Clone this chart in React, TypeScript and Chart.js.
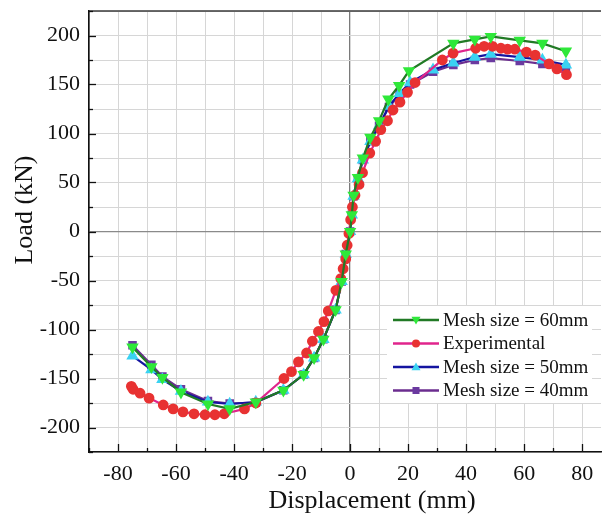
import React, { useEffect, useRef } from "react";
import { Chart, registerables } from "chart.js";

Chart.register(...registerables);

// ---- Data ----
const mesh60X = [-75, -68.5, -64.7, -58.3, -49, -41.5, -32.5, -23, -16, -12.4, -9.2, -5, -2.9, -1.5, 0, 0.6, 1.2, 2.7, 4.4, 7, 10, 13.2, 16.9, 20.3, 35.6, 43, 48.5, 58.5, 66.3, 74.4];
const mesh60Y = [-118, -138, -149, -164, -176, -181, -174, -162, -146, -129, -110, -80, -51, -23, 0, 17, 37, 55, 75, 96, 113, 135, 149, 164, 192, 196, 199, 195, 192, 184];

const expX = [-75.4, -74.8, -72.4, -69.3, -64.4, -61, -57.6, -53.8, -50, -46.6, -43.4, -36.4, -32.5, -22.8, -20.2, -17.8, -15, -13, -10.9, -9, -7.5, -4.9, -3.2, -2.4, -1.5, -1.0, -0.4, 0.2, 0.8, 1.7, 3.1, 4.3, 6.8, 8.8, 10.6, 12.9, 14.8, 17.2, 19.8, 22.4, 31.8, 35.5, 43.3, 46.2, 49.1, 52, 54.3, 56.8, 60.8, 63.8, 68.6, 71.3, 74.6];
const expY = [-158, -161, -165, -170, -177, -181, -184, -186, -187, -187, -186, -181, -175, -150, -143, -133, -124, -112, -102, -92, -81, -60, -48, -38, -28, -14, -2, 12, 25, 37, 48, 60, 80, 92, 104, 113, 124, 132, 142, 152, 175, 182, 187, 189, 189, 187, 186, 186, 183, 180, 171, 166, 160];

const mesh50X = [-75, -68.5, -64.7, -58.3, -49, -41.5, -32.5, -23, -16, -12.4, -9.2, -5, -2.9, -1.5, 0, 0.6, 1.2, 2.7, 4.4, 7, 10, 13.4, 17.1, 20.7, 28.6, 35.6, 43, 48.5, 58.5, 66.3, 74.4];
const mesh50Y = [-127, -141, -151, -163, -174, -176, -174, -162, -146, -129, -110, -80, -51, -23, 0, 17, 36, 54, 73, 92, 108, 128, 141, 152, 165, 172, 178, 181, 178, 175, 170];

const mesh40X = [-75, -68.5, -64.7, -58.3, -49, -41.5, -32.5, -23, -16, -12.4, -9.2, -5, -2.9, -1.5, 0, 0.6, 1.2, 2.7, 4.4, 7, 10, 13.4, 17.1, 20.7, 28.6, 35.6, 43, 48.5, 58.5, 66.3, 74.4];
const mesh40Y = [-116, -136, -148, -161, -173, -175.5, -174.5, -162, -146, -129, -110, -80, -51, -23, 0, 17, 36, 54, 73, 92, 108, 127, 140, 150, 163, 170, 175, 177, 174, 171, 167];

const seriesLabels = ["Mesh size = 60mm", "Experimental", "Mesh size = 50mm", "Mesh size = 40mm"];
const xTitle = "Displacement (mm)";
const yTitle = "Load (kN)";
const xMin = -90;
const xMax = 86.5;
const yMin = -225;
const yMax = 225;

const FONT = "'Liberation Serif', 'Times New Roman', serif";

const toPoints = (xs: number[], ys: number[]) => xs.map((x, i) => ({ x, y: ys[i] }));

const overlayPlugin = {
  id: "overlay",
  afterDraw(chart: any) {
    const { ctx, chartArea, scales } = chart;
    const xs = scales.x;
    const ys = scales.y;
    ctx.save();
    // top border
    ctx.strokeStyle = "#3a3a3a";
    ctx.lineWidth = 1.5;
    ctx.beginPath();
    ctx.moveTo(chartArea.left, chartArea.top);
    ctx.lineTo(chartArea.right, chartArea.top);
    ctx.stroke();
    // inward ticks
    ctx.strokeStyle = "#111";
    ctx.lineWidth = 1.3;
    for (let v = yMin; v <= yMax; v += 25) {
      const py = Math.round(ys.getPixelForValue(v)) + 0.5;
      const len = v % 50 === 0 ? 7 : 4;
      ctx.beginPath();
      ctx.moveTo(chartArea.left, py);
      ctx.lineTo(chartArea.left + len, py);
      ctx.stroke();
    }
    for (let v = -90; v <= 80; v += 10) {
      const px = Math.round(xs.getPixelForValue(v)) + 0.5;
      const len = v % 20 === 0 ? 8 : 4;
      ctx.beginPath();
      ctx.moveTo(px, chartArea.bottom);
      ctx.lineTo(px, chartArea.bottom - len);
      ctx.stroke();
    }
    // axis titles
    ctx.fillStyle = "#111";
    ctx.font = `26px ${FONT}`;
    ctx.textAlign = "center";
    ctx.textBaseline = "middle";
    ctx.fillText(xTitle, 372, 501);
    ctx.save();
    ctx.translate(25, 210);
    ctx.rotate(-Math.PI / 2);
    ctx.fillText(yTitle, 0, 0);
    ctx.restore();

    // legend
    const bx = 387, by = 306, bw = 205, bh = 97;
    ctx.fillStyle = "#fff";
    ctx.fillRect(bx, by, bw, bh);
    const rowY = [320, 343.5, 367, 390.5];
    ctx.font = `19px ${FONT}`;
    ctx.textAlign = "left";
    ctx.textBaseline = "middle";
    chart.data.datasets.forEach((ds: any, row: number) => {
      const y = rowY[row];
      ctx.strokeStyle = ds.borderColor;
      ctx.lineWidth = 2.5;
      ctx.beginPath();
      ctx.moveTo(393, y);
      ctx.lineTo(439, y);
      ctx.stroke();
      ctx.fillStyle = ds.pointBackgroundColor;
      const mx = 416;
      const r = 4.5;
      ctx.beginPath();
      if (ds.pointStyle === "circle") {
        ctx.arc(mx, y, 4, 0, Math.PI * 2);
        ctx.fill();
      } else if (ds.pointStyle === "rect") {
        ctx.fillRect(mx - 3.5, y - 3.5, 7, 7);
      } else if (ds.pointStyle === "triangle") {
        const down = ds.pointRotation === 180;
        const s = down ? -1 : 1;
        ctx.moveTo(mx, y - s * r);
        ctx.lineTo(mx - r, y + s * r * 0.7);
        ctx.lineTo(mx + r, y + s * r * 0.7);
        ctx.closePath();
        ctx.fill();
      }
      ctx.fillStyle = "#111";
      ctx.fillText(ds.label, 443, y + 1);
    });
    ctx.restore();
  },
};

export default function App() {
  const ref = useRef<HTMLCanvasElement | null>(null);
  useEffect(() => {
    if (!ref.current) return;
    const chart = new Chart(ref.current, {
      type: "line",
      data: {
        datasets: [
          {
            label: seriesLabels[0],
            data: toPoints(mesh60X, mesh60Y),
            borderColor: "#217a25",
            backgroundColor: "#2fe83a",
            pointBackgroundColor: "#2fe83a",
            pointBorderColor: "#2fe83a",
            pointStyle: "triangle",
            pointRotation: 180,
            pointRadius: 5,
            borderWidth: 2.2,
            tension: 0,
          },
          {
            label: seriesLabels[1],
            data: toPoints(expX, expY),
            borderColor: "#e0258c",
            backgroundColor: "#e83232",
            pointBackgroundColor: "#e83232",
            pointBorderColor: "#e83232",
            pointStyle: "circle",
            pointRadius: 4.3,
            borderWidth: 2.2,
            tension: 0,
          },
          {
            label: seriesLabels[2],
            data: toPoints(mesh50X, mesh50Y),
            borderColor: "#1414a0",
            backgroundColor: "#3ad2f2",
            pointBackgroundColor: "#3ad2f2",
            pointBorderColor: "#3ad2f2",
            pointStyle: "triangle",
            pointRadius: 5,
            borderWidth: 2.2,
            tension: 0,
          },
          {
            label: seriesLabels[3],
            data: toPoints(mesh40X, mesh40Y),
            borderColor: "#6b2d8f",
            backgroundColor: "#6b3aa0",
            pointBackgroundColor: "#6b3aa0",
            pointBorderColor: "#6b3aa0",
            pointStyle: "rect",
            pointRadius: 4.5,
            borderWidth: 2.2,
            tension: 0,
          },
        ],
      },
      options: {
        animation: false,
        responsive: false,
        layout: { autoPadding: false, padding: { left: 0, top: 11, right: 1, bottom: 0 } },
        plugins: {
          legend: { display: false },
          tooltip: { enabled: false },
        },
        scales: {
          x: {
            type: "linear",
            min: xMin,
            max: xMax,
            ticks: {
              stepSize: 10,
              includeBounds: false,
              autoSkip: false,
              maxRotation: 0,
              padding: 9,
              color: "#111",
              font: { family: FONT, size: 22 },
              callback: (v: any) => (Number(v) % 20 === 0 ? String(v) : ""),
            },
            grid: {
              drawTicks: false,
              color: (c: any) => (c.tick && c.tick.value === 0 ? "#7a7a7a" : "#d6d6d6"),
              lineWidth: (c: any) => (c.tick && c.tick.value === 0 ? 1.3 : 1),
            },
            border: { color: "#111", width: 1.6 },
            afterFit: (s: any) => {
              s.height = 62;
              s.paddingLeft = 0;
              s.paddingRight = 0;
            },
          },
          y: {
            type: "linear",
            min: yMin,
            max: yMax,
            ticks: {
              stepSize: 25,
              autoSkip: false,
              padding: 9,
              color: "#111",
              font: { family: FONT, size: 22 },
              callback: (v: any) => (Number(v) % 50 === 0 ? String(v) : ""),
            },
            grid: {
              drawTicks: false,
              color: (c: any) => (c.tick && c.tick.value === 0 ? "#8a8a8a" : "#d6d6d6"),
              lineWidth: (c: any) => (c.tick && c.tick.value === 0 ? 1.3 : 1),
            },
            border: { color: "#111", width: 1.6 },
            afterFit: (s: any) => {
              s.width = 89;
              s.paddingTop = 0;
              s.paddingBottom = 0;
            },
          },
        },
      },
      plugins: [overlayPlugin],
    });
    return () => chart.destroy();
  }, []);
  return (
    <div style={{ position: "fixed", left: 0, top: 0, width: 602, height: 514, background: "#fff" }}>
      <canvas ref={ref} width={602} height={514} style={{ display: "block", width: 602, height: 514 }} />
    </div>
  );
}
